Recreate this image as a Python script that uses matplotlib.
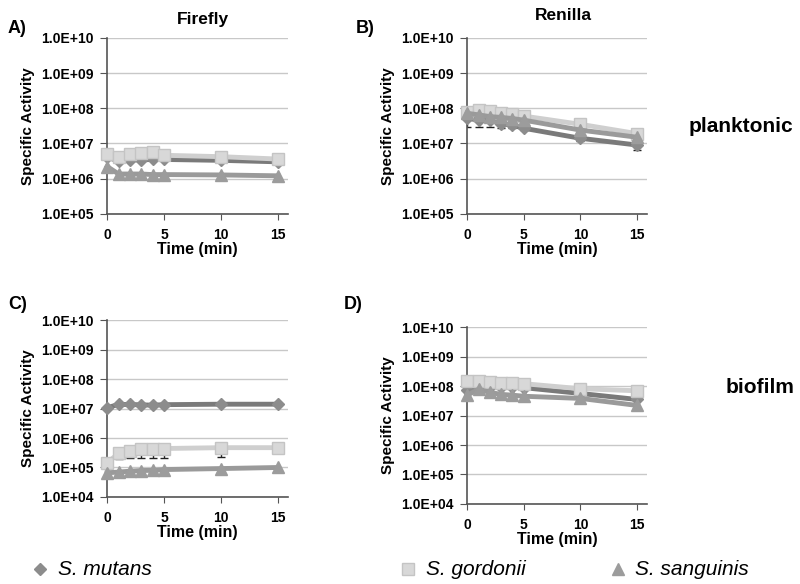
import matplotlib
matplotlib.use("Agg")
from matplotlib import pyplot as plt

plt.rcParams['font.family'] = ['Liberation Sans', 'DejaVu Sans']

# Time points (min)
time = [0, 1, 2, 3, 4, 5, 10, 15]
species = ['S. mutans', 'S. gordonii', 'S. sanguinis']

# A) Firefly, planktonic
ff_plank_mutans = [4.0e6, 3.2e6, 3.4e6, 3.4e6, 3.5e6, 3.5e6, 3.3e6, 3.0e6]
ff_plank_gordonii = [5.0e6, 4.2e6, 5.0e6, 5.2e6, 5.6e6, 4.6e6, 4.2e6, 3.6e6]
ff_plank_sanguinis = [2.2e6, 1.35e6, 1.35e6, 1.35e6, 1.3e6, 1.3e6, 1.27e6, 1.2e6]

# B) Renilla, planktonic
rl_plank_mutans = [5.2e7, 4.6e7, 4.6e7, 3.6e7, 3.3e7, 2.7e7, 1.4e7, 9.0e6]
rl_plank_gordonii = [8.0e7, 9.0e7, 8.5e7, 7.5e7, 6.9e7, 6.0e7, 3.5e7, 1.9e7]
rl_plank_sanguinis = [7.2e7, 6.5e7, 5.8e7, 5.5e7, 5.1e7, 4.6e7, 2.4e7, 1.5e7]
rl_plank_mutans_err = [2.2e7, 1.6e7, 1.6e7, 0.8e7, 0.5e7, 0.3e7, 0.2e7, 2.5e6]

# C) Firefly, biofilm
ff_bio_mutans = [1.07e7, 1.37e7, 1.37e7, 1.33e7, 1.3e7, 1.35e7, 1.4e7, 1.4e7]
ff_bio_gordonii = [1.45e5, 3.0e5, 3.6e5, 4.1e5, 4.3e5, 4.4e5, 4.7e5, 4.7e5]
ff_bio_sanguinis = [6.6e4, 7.0e4, 7.5e4, 7.9e4, 8.0e4, 8.5e4, 9.2e4, 1.0e5]
ff_bio_gordonii_err = [0, 1.0e5, 1.5e5, 2.0e5, 2.2e5, 2.3e5, 2.4e5, 1.6e5]

# D) Renilla, biofilm
rl_bio_mutans = [7.3e7, 9.5e7, 9.5e7, 9.0e7, 9.0e7, 8.8e7, 5.6e7, 3.5e7]
rl_bio_gordonii = [1.5e8, 1.5e8, 1.33e8, 1.3e8, 1.23e8, 1.2e8, 8.1e7, 6.9e7]
rl_bio_sanguinis = [4.9e7, 7.7e7, 6.1e7, 5.2e7, 4.9e7, 4.5e7, 3.8e7, 2.2e7]

styles = {
    'S. mutans': dict(color='#7a7a7a', marker='D', mfc='#8c8c8c', mec='#8c8c8c', ms=6.5, lw=3.5),
    'S. gordonii': dict(color='#cfcfcf', marker='s', mfc='#d8d8d8', mec='#c4c4c4', ms=8, lw=3.5),
    'S. sanguinis': dict(color='#9a9a9a', marker='^', mfc='#9c9c9c', mec='#9c9c9c', ms=8.5, lw=3.5),
}

fig = plt.figure(figsize=(8, 5.84), dpi=100)

panels = [
    ([0.134, 0.634, 0.226, 0.301], 5, [ff_plank_mutans, ff_plank_gordonii, ff_plank_sanguinis], None),
    ([0.584, 0.634, 0.225, 0.301], 5, [rl_plank_mutans, rl_plank_gordonii, rl_plank_sanguinis], ('S. mutans', rl_plank_mutans_err)),
    ([0.134, 0.149, 0.226, 0.303], 4, [ff_bio_mutans, ff_bio_gordonii, ff_bio_sanguinis], ('S. gordonii', ff_bio_gordonii_err)),
    ([0.584, 0.137, 0.225, 0.303], 4, [rl_bio_mutans, rl_bio_gordonii, rl_bio_sanguinis], None),
]

for rect, ymin_exp, series, err in panels:
    ax = fig.add_axes(rect)
    ax.set_yscale('log')
    ax.set_ylim(10 ** ymin_exp, 1e10)
    ax.set_xlim(0, 15.9)
    ax.set_xticks([0, 5, 10, 15])
    yt = [10.0 ** e for e in range(ymin_exp, 11)]
    ax.set_yticks(yt)
    ax.set_yticklabels(['1.0E+%02d' % e for e in range(ymin_exp, 11)])
    ax.minorticks_off()
    ax.yaxis.grid(True, color='#c8c8c8', lw=1)
    ax.set_axisbelow(True)
    for s in ['top', 'right']:
        ax.spines[s].set_visible(False)
    for s in ['left', 'bottom']:
        ax.spines[s].set_color('#555555')
        ax.spines[s].set_linewidth(1.2)
    ax.tick_params(axis='y', direction='out', length=5, color='#555555', pad=5)
    ax.tick_params(axis='x', direction='out', length=4, color='#555555', pad=6)
    for lab in ax.get_xticklabels() + ax.get_yticklabels():
        lab.set_fontweight('bold')
        lab.set_fontsize(10)
    ax.set_xlabel('Time (min)', fontsize=11.5, fontweight='bold', labelpad=0)
    ax.set_ylabel('Specific Activity', fontsize=11, fontweight='bold', labelpad=4)

    # series drawn in order, later ones on top
    for i, name in enumerate(species):
        if err is not None and err[0] == name:
            ax.errorbar(time, series[i], yerr=[err[1], [0] * len(time)],
                        fmt='none', ecolor='#222222', elinewidth=1, capsize=3, zorder=2)
        ax.plot(time, series[i], clip_on=False, zorder=3, **styles[name])

fig.text(0.01, 0.952, 'A)', fontsize=13, fontweight='bold', va='center')
fig.text(0.445, 0.952, 'B)', fontsize=13, fontweight='bold', va='center')
fig.text(0.01, 0.478, 'C)', fontsize=13, fontweight='bold', va='center')
fig.text(0.43, 0.478, 'D)', fontsize=13, fontweight='bold', va='center')
fig.text(0.254, 0.966, 'Firefly', fontsize=12.5, fontweight='bold', ha='center', va='center')
fig.text(0.704, 0.974, 'Renilla', fontsize=12.5, fontweight='bold', ha='center', va='center')
fig.text(0.926, 0.784, 'planktonic', fontsize=15, fontweight='bold', ha='center', va='center')
fig.text(0.95, 0.337, 'biofilm', fontsize=15, fontweight='bold', ha='center', va='center')

# legend along the bottom
leg_x = [0.05, 0.51, 0.772]
for name, x in zip(species, leg_x):
    st = styles[name]
    fig.lines.append(plt.Line2D([x], [0.025], marker=st['marker'], mfc=st['mfc'], mec=st['mec'],
                                ms=st['ms'], ls='none', transform=fig.transFigure))
    fig.text(x + 0.022, 0.025, name, fontsize=15, style='italic', va='center')

plt.savefig('out.png', dpi=100)
